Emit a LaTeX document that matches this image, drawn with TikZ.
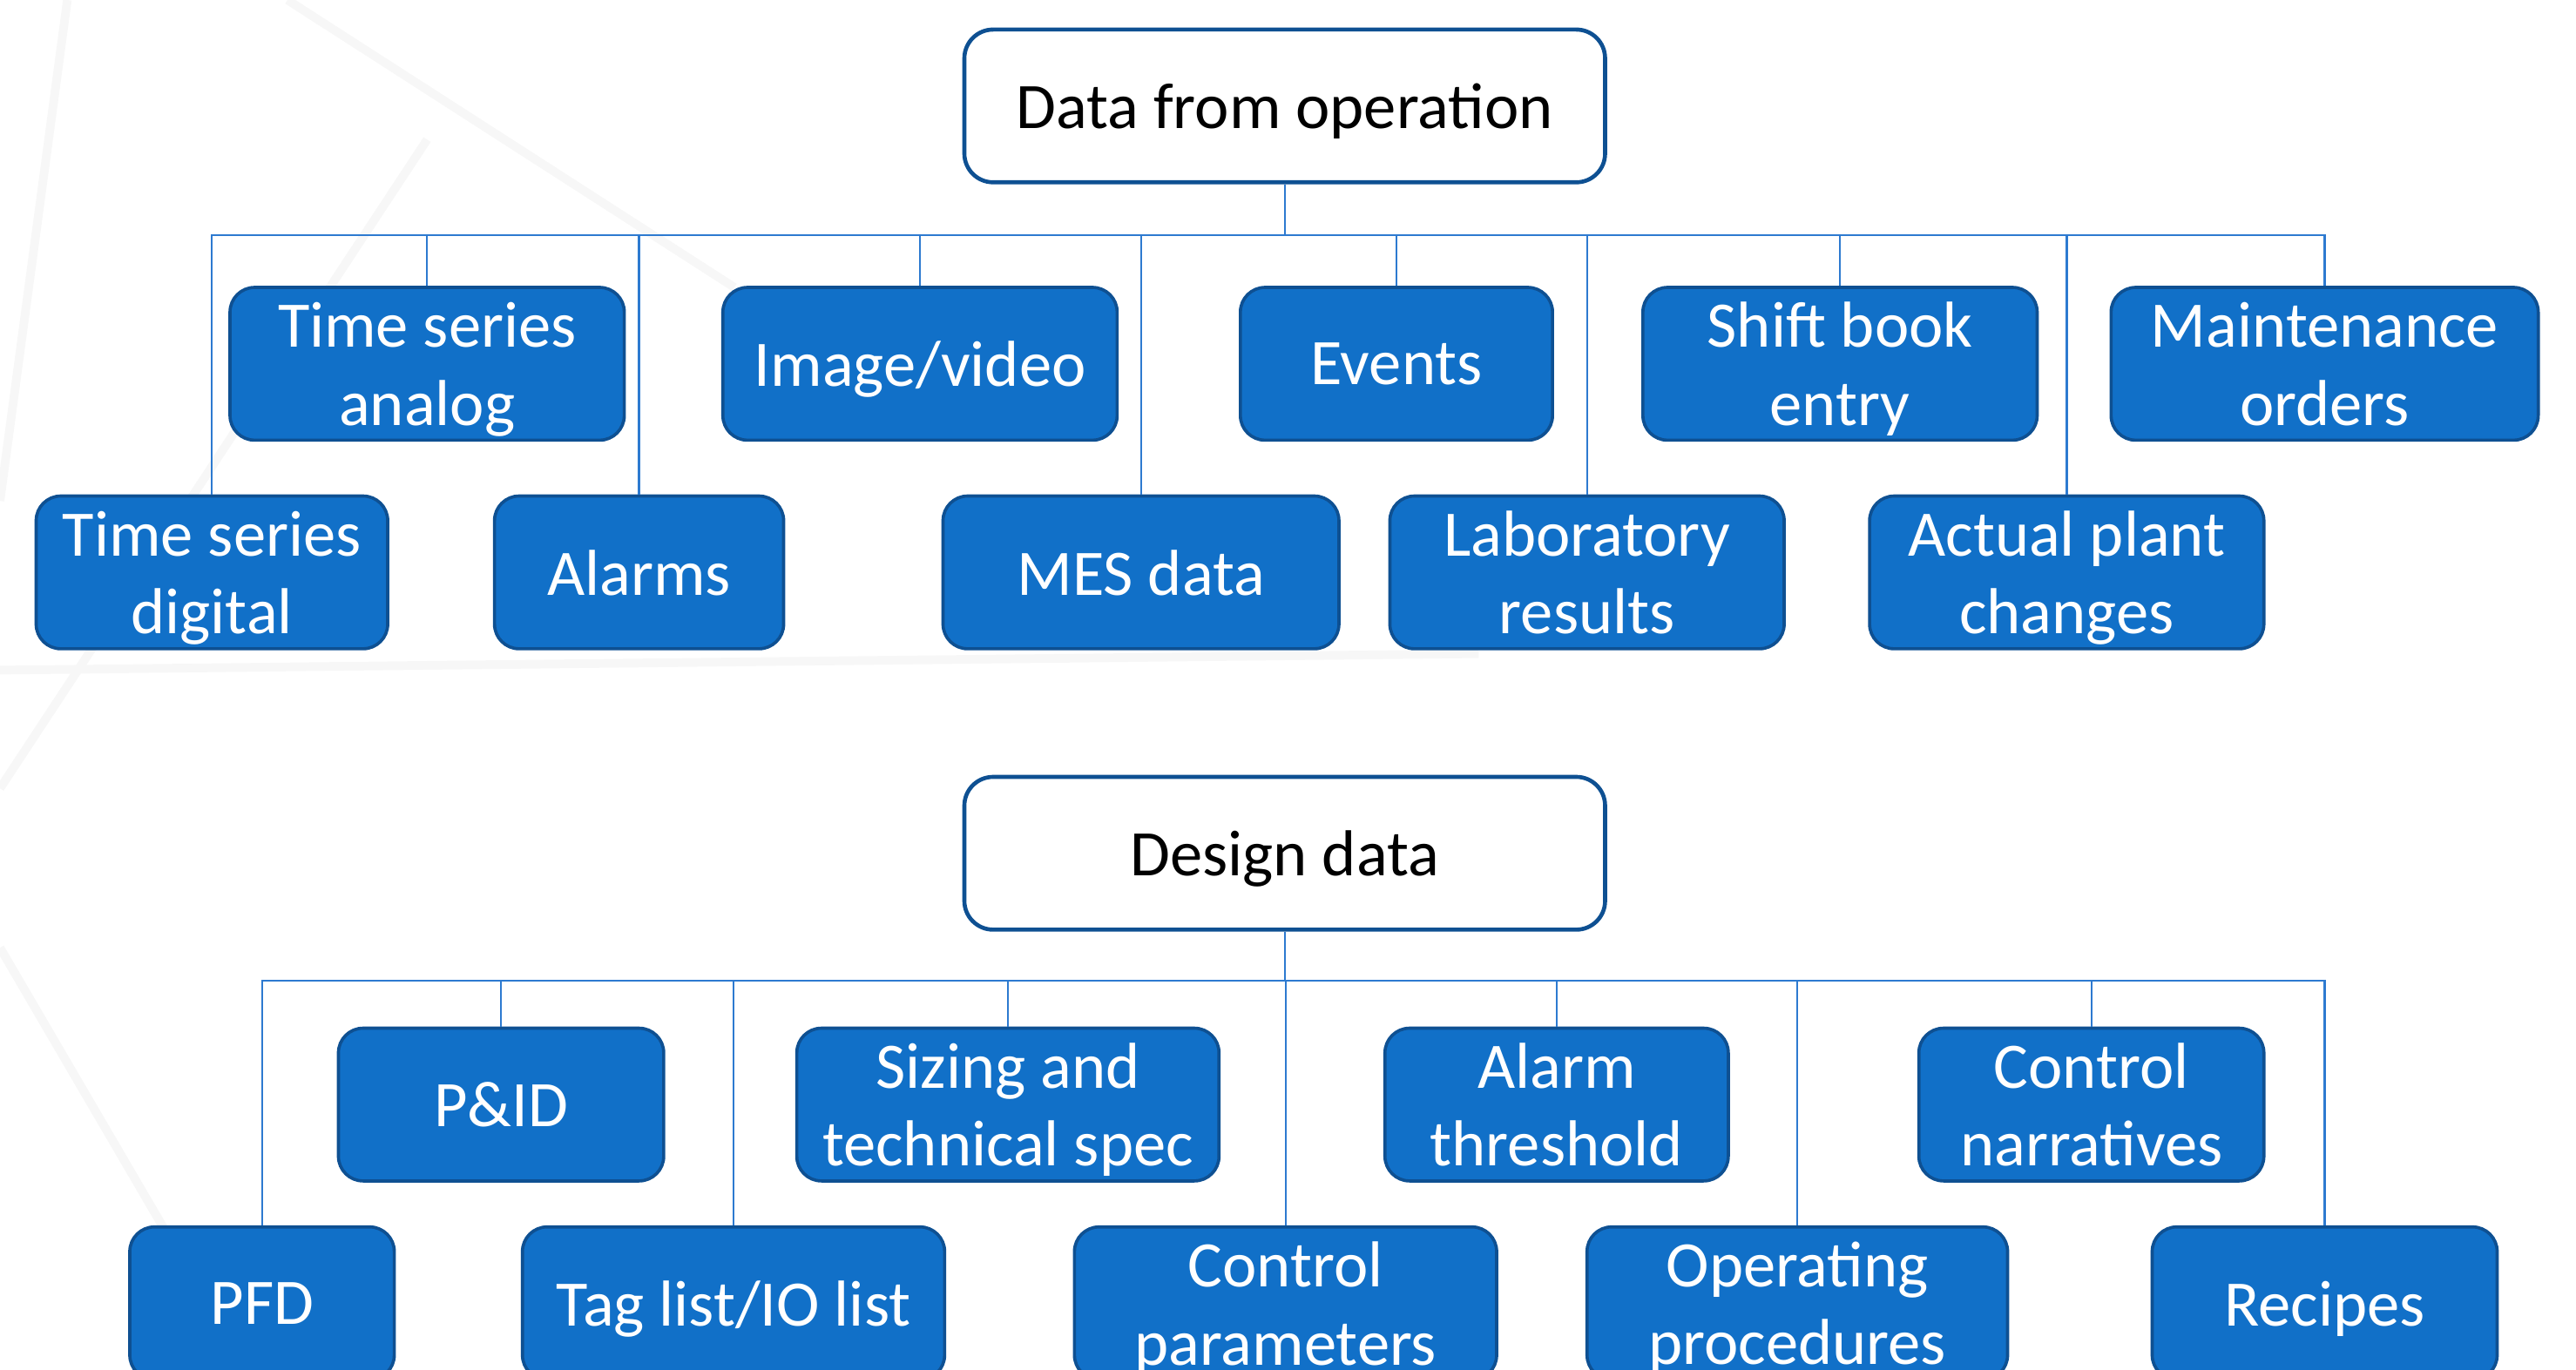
\documentclass[tikz,border=0pt]{standalone}
\usepackage{fontspec}
\setmainfont{Carlito}
\usetikzlibrary{positioning}

\definecolor{boxblue}{RGB}{17,112,200}
\definecolor{edgeblue}{RGB}{14,80,146}
\definecolor{linkblue}{RGB}{45,122,208}

\begin{document}
\begin{tikzpicture}[
    root/.style={draw=edgeblue, line width=1.4pt, rounded corners=0.35cm, fill=white,
                 text=black, minimum width=7.8cm, minimum height=1.86cm, text depth=0pt,
                 font=\fontsize{22.5}{27}\selectfont},
    leaf/.style={draw=edgeblue, line width=1.1pt, rounded corners=0.3cm, fill=boxblue,
                 text=white, align=center, minimum height=1.86cm, inner sep=0pt,
                 text depth=0pt, font=\fontsize{22.5}{27}\selectfont},
    link/.style={draw=linkblue, line width=0.7pt},
    faint/.style={draw=black!3, line width=3pt}]
	\clip (0,0) rectangle (31.36,16.68);
	\useasboundingbox (0,0) rectangle (31.36,16.68);

	% pale network lines behind the trees
	\draw[faint] (3.5,16.68) -- (8.94,13.18);
	\draw[faint] (5.2,14.98) -- (0,7.08);
	\draw[faint] (0.82,16.68) -- (0,10.58);
	\draw[faint] (0,8.52) -- (18,8.72);
	\draw[faint] (0,5.14) -- (3.0,0);

	% operation data tree
	\node[root] (ops) at (15.64,15.39) {Data from operation};
	\coordinate (opsbus) at (15.64,13.82);

	\node[leaf, minimum width=4.8cm]  (analog)  at (5.2,12.25)  {Time series\\analog};
	\node[leaf, minimum width=4.8cm]  (image)   at (11.2,12.25) {Image/video};
	\node[leaf, minimum width=3.8cm]  (events)  at (17.0,12.25) {Events};
	\node[leaf, minimum width=4.8cm]  (shift)   at (22.4,12.25) {Shift book\\entry};
	\node[leaf, minimum width=5.2cm]  (maint)   at (28.3,12.25) {Maintenance\\orders};

	\node[leaf, minimum width=4.28cm] (digital) at (2.58,9.71)  {Time series\\digital};
	\node[leaf, minimum width=3.52cm] (alarms)  at (7.78,9.71)  {Alarms};
	\node[leaf, minimum width=4.82cm] (mes)     at (13.89,9.71) {MES data};
	\node[leaf, minimum width=4.8cm]  (lab)     at (19.32,9.71) {Laboratory\\results};
	\node[leaf, minimum width=4.8cm]  (plant)   at (25.16,9.71) {Actual plant\\changes};

	\draw[link] (ops.south) -- (opsbus);
	\foreach \n in {digital, analog, alarms, image, mes, events, lab, shift, plant, maint}
		\draw[link] (opsbus) -| (\n.north);

	% design data tree
	\node[root] (design) at (15.64,6.29) {Design data};
	\coordinate (designbus) at (15.64,4.74);

	\node[leaf, minimum width=3.96cm] (pid)     at (6.1,3.23)   {P\&ID};
	\node[leaf, minimum width=5.14cm] (sizing)  at (12.27,3.23) {Sizing and\\technical spec};
	\node[leaf, minimum width=4.18cm] (thresh)  at (18.95,3.23) {Alarm\\threshold};
	\node[leaf, minimum width=4.2cm]  (narr)    at (25.46,3.23) {Control\\narratives};

	\node[leaf, minimum width=3.22cm] (pfd)     at (3.19,0.81)  {PFD};
	\node[leaf, minimum width=5.14cm] (tags)    at (8.93,0.81)  {Tag list/IO list};
	\node[leaf, minimum width=5.14cm] (params)  at (15.65,0.81) {Control\\parameters};
	\node[leaf, minimum width=5.12cm] (procs)   at (21.88,0.81) {Operating\\procedures};
	\node[leaf, minimum width=4.2cm]  (recipes) at (28.3,0.81)  {Recipes};

	\draw[link] (design.south) -- (designbus);
	\foreach \n in {pfd, pid, tags, sizing, params, thresh, procs, narr, recipes}
		\draw[link] (designbus) -| (\n.north);
\end{tikzpicture}
\end{document}
